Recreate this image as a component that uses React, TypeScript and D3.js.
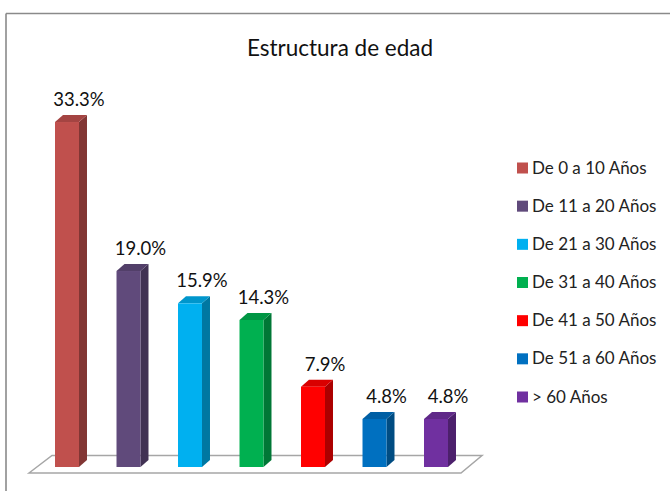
import React from "react";
import * as d3 from "d3";

const categories = [
  "De 0 a 10 Años",
  "De 11 a 20 Años",
  "De 21 a 30 Años",
  "De 31 a 40 Años",
  "De 41 a 50 Años",
  "De 51 a 60 Años",
  "> 60 Años",
];
const values = [33.3, 19.0, 15.9, 14.3, 7.9, 4.8, 4.8];
const valueLabels = ["33.3%", "19.0%", "15.9%", "14.3%", "7.9%", "4.8%", "4.8%"];
const colors = ["#C0504D", "#604A7B", "#00B0F0", "#00B050", "#FF0000", "#0070C0", "#7030A0"];
const title = "Estructura de edad";

const W = 670;
const H = 491;
const FONT = "Lato, 'Open Sans', sans-serif";

export default function App() {
  const x = d3
    .scaleBand<string>()
    .domain(categories)
    .range([36.25, 466.75])
    .paddingInner(0.61)
    .paddingOuter(0.305);
  const y = d3.scaleLinear().domain([0, 35]).range([469, 469 - 35 * 10.42]);
  const bw = x.bandwidth();
  const base = 467;
  const dx = 8;
  const dy = -7;

  const legendY = d3.scalePoint<string>().domain(categories).range([168, 397]);

  const floor = [
    [29, 473],
    [52, 455.5],
    [482, 455.5],
    [461, 473],
  ];

  return (
    <svg
      width={W}
      height={H}
      style={{ position: "absolute", left: 0, top: 0, background: "#fff" }}
      fontFamily={FONT}
    >
      <rect x={0} y={0} width={W} height={H} fill="#fff" />
      <line x1={6} y1={13.5} x2={W} y2={13.5} stroke="#8a8a8a" strokeWidth={1.6} />
      <line x1={6} y1={13.5} x2={6} y2={H} stroke="#8a8a8a" strokeWidth={1.6} />

      <text x={340} y={56} textAnchor="middle" fontSize={22.5} fill="#111">
        {title}
      </text>

      <polygon
        points={floor.map((p) => p.join(",")).join(" ")}
        fill="#fff"
        stroke="#a6a6a6"
        strokeWidth={1.5}
      />

      {categories.map((c, i) => {
        const x0 = x(c) as number;
        const top = y(values[i]);
        const col = d3.color(colors[i])!;
        const topCol = col.darker(0.45).formatHex();
        const sideCol = col.darker(1.1).formatHex();
        return (
          <g key={c}>
            <polygon
              points={`${x0 + bw},${top} ${x0 + bw + dx},${top + dy} ${x0 + bw + dx},${base + dy} ${x0 + bw},${base}`}
              fill={sideCol}
            />
            <polygon
              points={`${x0},${top} ${x0 + dx},${top + dy} ${x0 + bw + dx},${top + dy} ${x0 + bw},${top}`}
              fill={topCol}
            />
            <rect x={x0} y={top} width={bw} height={base - top} fill={colors[i]} />
            <text
              x={x0 + bw / 2 + 12}
              y={top - 16}
              textAnchor="middle"
              fontSize={18.5}
              fill="#111"
            >
              {valueLabels[i]}
            </text>
          </g>
        );
      })}

      {categories.map((c, i) => {
        const cy = legendY(c) as number;
        return (
          <g key={"lg" + c}>
            <rect x={517} y={cy - 5.5} width={11} height={11} fill={colors[i]} />
            <text x={532} y={cy + 5.5} fontSize={17} fill="#222">
              {c}
            </text>
          </g>
        );
      })}
    </svg>
  );
}
